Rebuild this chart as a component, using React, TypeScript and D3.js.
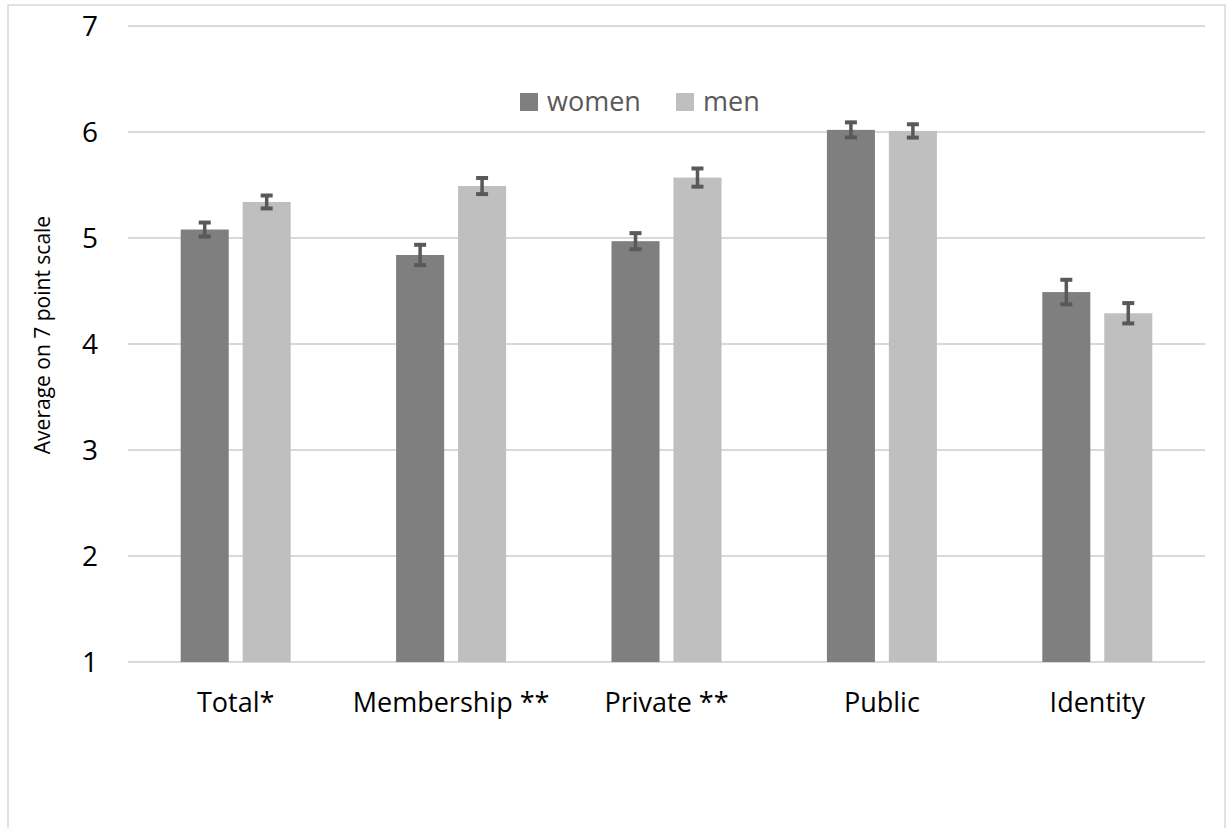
import React from "react";
import * as d3 from "d3";

const categories = ["Total*", "Membership **", "Private **", "Public", "Identity"];
const seriesNames = ["women", "men"];
const womenValues = [5.08, 4.84, 4.97, 6.02, 4.49];
const womenErrors = [0.08, 0.11, 0.09, 0.085, 0.13];
const menValues = [5.34, 5.49, 5.57, 6.01, 4.29];
const menErrors = [0.075, 0.09, 0.1, 0.077, 0.11];
const yTicks = [1, 2, 3, 4, 5, 6, 7];
const yTitle = "Average on 7 point scale";

const W = 1228;
const H = 828;
const FONT = "'Open Sans', sans-serif";
const colors = ["#7f7f7f", "#bfbfbf"];
const errColor = "#595959";

export default function App() {
  const x = d3.scaleBand<string>().domain(categories).range([128, 1205]).paddingInner(0).paddingOuter(0);
  const y = d3.scaleLinear().domain([1, 7]).range([662, 26]);
  const bw = x.bandwidth();
  const barW = bw * 0.223;
  const gap = barW * 0.29;
  const series = [
    { name: seriesNames[0], values: womenValues, errors: womenErrors, color: colors[0] },
    { name: seriesNames[1], values: menValues, errors: menErrors, color: colors[1] },
  ];
  const groupW = barW * 2 + gap;

  return (
    <svg width={W} height={H} style={{ position: "absolute", left: 0, top: 0, background: "#fff" }} fontFamily={FONT}>
      <rect x={8} y={5} width={1217} height={H + 10} fill="#fff" stroke="#d9d9d9" strokeWidth={1.5} />
      {yTicks.map((t) => (
        <g key={t}>
          <line x1={128} x2={1205} y1={y(t)} y2={y(t)} stroke="#d9d9d9" strokeWidth={2} />
          <text x={98} y={y(t)} dy="0.36em" textAnchor="end" fontSize={28} fill="#000">
            {t}
          </text>
        </g>
      ))}
      {categories.map((c, i) => {
        const left = (x(c) as number) + bw / 2 - groupW / 2;
        return (
          <g key={c}>
            {series.map((s, j) => {
              const bx = left + j * (barW + gap);
              const v = s.values[i];
              const e = s.errors[i];
              const cx = bx + barW / 2;
              return (
                <g key={s.name}>
                  <rect x={bx} y={y(v)} width={barW} height={y(1) - y(v)} fill={s.color} />
                  <line x1={cx} x2={cx} y1={y(v + e)} y2={y(v - e)} stroke={errColor} strokeWidth={3.5} />
                  <line x1={cx - 6} x2={cx + 6} y1={y(v + e) + 1.5} y2={y(v + e) + 1.5} stroke={errColor} strokeWidth={4} />
                  <line x1={cx - 6} x2={cx + 6} y1={y(v - e) - 1.5} y2={y(v - e) - 1.5} stroke={errColor} strokeWidth={4} />
                </g>
              );
            })}
            <text x={(x(c) as number) + bw / 2} y={712} textAnchor="middle" fontSize={27} fill="#000">
              {c}
            </text>
          </g>
        );
      })}
      <text
        transform={`translate(42, ${y(4) - 9}) rotate(-90)`}
        textAnchor="middle"
        dominantBaseline="central"
        fontSize={21}
        fill="#000"
      >
        {yTitle}
      </text>
      {series.map((s, j) => {
        const lx = j === 0 ? 520 : 676;
        return (
          <g key={s.name}>
            <rect x={lx} y={93} width={18} height={18} fill={s.color} />
            <text x={lx + 27} y={111} fontSize={27} fill="#595959">
              {s.name}
            </text>
          </g>
        );
      })}
    </svg>
  );
}
